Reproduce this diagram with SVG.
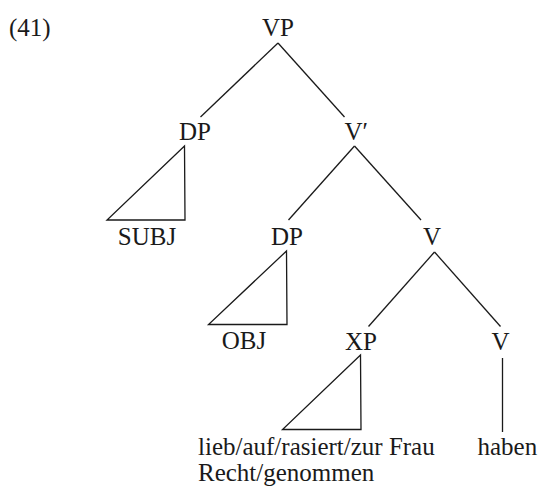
<svg xmlns="http://www.w3.org/2000/svg" width="539" height="487" viewBox="0 0 539 487">
<style>
text{font-family:"Liberation Serif","Times New Roman",serif;font-size:25px;fill:#1a1a1a}
.c{text-anchor:middle}
.e{stroke:#1a1a1a;stroke-width:1.3;fill:none}
</style>
<rect width="539" height="487" fill="#fff"/>
<text x="9" y="36">(41)</text>
<g id="connectors">
<line class="e" x1="278" y1="43" x2="200.5" y2="117"/>
<line class="e" x1="278" y1="43" x2="344.5" y2="117"/>
<line class="e" x1="354.5" y1="146" x2="288.5" y2="220"/>
<line class="e" x1="354.5" y1="146" x2="421" y2="220"/>
<line class="e" x1="434.5" y1="252" x2="368.5" y2="326.5"/>
<line class="e" x1="434.5" y1="252" x2="500.5" y2="326.5"/>
<line class="e" x1="502.5" y1="358" x2="502.5" y2="432"/>
</g>
<g id="VP"><text class="c" x="278" y="36">VP</text></g>
<g id="DP1"><text class="c" x="195" y="140">DP</text>
<polygon class="e" points="184.5,146 107,220 185,220"/></g>
<g id="SUBJ"><text class="c" x="147" y="245">SUBJ</text></g>
<g id="Vbar"><text x="344.5" y="140">V′</text></g>
<g id="DP2"><text class="c" x="287" y="245">DP</text>
<polygon class="e" points="286.5,251 208.5,324.5 287,324.5"/></g>
<g id="OBJ"><text class="c" x="244" y="349">OBJ</text></g>
<g id="V1"><text class="c" x="432" y="245">V</text></g>
<g id="XP"><text class="c" x="361" y="350">XP</text>
<polygon class="e" points="360.5,355 282.5,429.5 361,429.5"/></g>
<g id="V2"><text class="c" x="500.5" y="350">V</text></g>
<g id="XPtext"><text x="198" y="455">lieb/auf/rasiert/zur Frau</text>
<text x="198" y="481">Recht/genommen</text></g>
<g id="haben"><text x="477.5" y="455">haben</text></g>
</svg>
